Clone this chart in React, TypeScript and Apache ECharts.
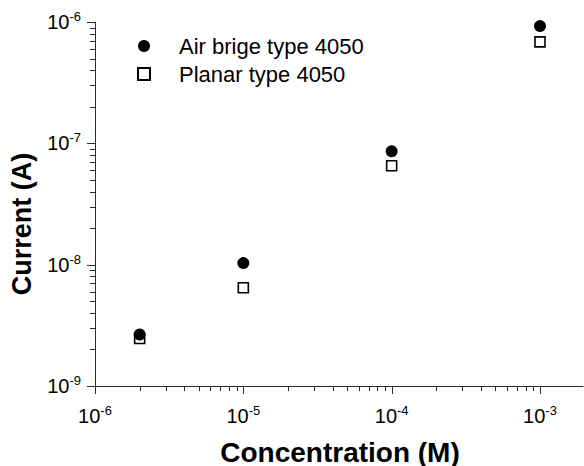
import React, { useEffect, useRef } from "react";
import * as echarts from "echarts";

// Concentration (M)
const concentrations = [2e-6, 1e-5, 1e-4, 1e-3];
// Current (A)
const airBridgeCurrent = [2.66e-9, 1.03e-8, 8.6e-8, 9.25e-7];
const planarCurrent = [2.46e-9, 6.46e-9, 6.53e-8, 6.86e-7];

const seriesNames = ["Air brige type 4050", "Planar type 4050"];

const xMajorTicks = [1e-6, 1e-5, 1e-4, 1e-3];
const yMajorTicks = [1e-9, 1e-8, 1e-7, 1e-6];
const minorMultipliers = [2, 3, 4, 5, 6, 7, 8, 9];

const X_MIN = -6;
const X_MAX = -2.71;
const Y_MIN = -9;
const Y_MAX = -6;

const FONT = "'Liberation Sans', Arial, Helvetica, sans-serif";
const AXIS_COLOR = "#2a2a2a";
const TICK_COLOR = "#2a2a2a";
const MAJOR_LEN = 8;
const MINOR_LEN = 5;

const log10 = (v: number) => Math.log10(v);
const isMajor = (v: number) => Math.abs(v - Math.round(v)) < 1e-6;

function buildTicks(majors: number[], lo: number, hi: number) {
  const out: number[] = [];
  majors.forEach((m) => {
    const lm = log10(m);
    if (lm >= lo - 1e-9 && lm <= hi + 1e-9) out.push(lm);
    minorMultipliers.forEach((k) => {
      const lv = log10(m * k);
      if (lv > lo && lv < hi) out.push(lv);
    });
  });
  return out;
}

const labelFormatter = (v: number) => {
  if (!isMajor(v)) return "";
  return `{b|10}{s|${Math.round(v)}}`;
};

const richLabel = {
  b: { fontSize: 20, fontFamily: FONT, color: "#000", lineHeight: 24 },
  s: {
    fontSize: 13,
    fontFamily: FONT,
    color: "#000",
    lineHeight: 13,
    verticalAlign: "top" as const,
  },
};

export default function App() {
  const ref = useRef<HTMLDivElement>(null);

  useEffect(() => {
    if (!ref.current) return;
    const chart = echarts.init(ref.current, undefined, { renderer: "svg" });

    const xTicks = buildTicks(xMajorTicks, X_MIN, X_MAX);
    const yTicks = buildTicks(yMajorTicks, Y_MIN, Y_MAX);

    chart.setOption({
      animation: false,
      backgroundColor: "#fff",
      grid: { left: 95, right: 1, top: 22, bottom: 80, containLabel: false },
      xAxis: {
        type: "value",
        min: X_MIN,
        max: X_MAX,
        interval: 1,
        splitLine: { show: false },
        axisTick: { show: false },
        axisLine: { show: true, lineStyle: { color: AXIS_COLOR, width: 1 } },
        axisLabel: {
          formatter: labelFormatter,
          rich: richLabel,
          margin: 18,
          showMaxLabel: false,
        },
      },
      yAxis: {
        type: "value",
        min: Y_MIN,
        max: Y_MAX,
        interval: 1,
        splitLine: { show: false },
        axisTick: { show: false },
        axisLine: { show: true, lineStyle: { color: AXIS_COLOR, width: 1 } },
        axisLabel: {
          formatter: labelFormatter,
          rich: richLabel,
          margin: 14,
        },
      },
      legend: {
        left: 132,
        top: 30,
        orient: "vertical",
        itemWidth: 12,
        itemHeight: 12,
        itemGap: 6,
        selectedMode: false,
        textStyle: {
          fontSize: 22,
          fontFamily: FONT,
          color: "#000",
          padding: [0, 0, 0, 24],
        },
        data: seriesNames,
      },
      graphic: [
        {
          type: "text",
          x: 22,
          y: 224,
          rotation: Math.PI / 2,
          style: {
            text: "Current (A)",
            fontSize: 27,
            fontWeight: "bold",
            fontFamily: FONT,
            fill: "#000",
            align: "center",
            verticalAlign: "middle",
          },
        },
        {
          type: "text",
          x: 340,
          y: 452,
          style: {
            text: "Concentration (M)",
            fontSize: 28,
            fontWeight: "bold",
            fontFamily: FONT,
            fill: "#000",
            align: "center",
            verticalAlign: "middle",
          },
        },
      ],
      series: [
        {
          name: seriesNames[0],
          type: "scatter",
          symbol: "circle",
          symbolSize: 12,
          z: 4,
          itemStyle: { color: "#000", opacity: 1 },
          data: concentrations.map((c, i) => [log10(c), log10(airBridgeCurrent[i])]),
        },
        {
          name: seriesNames[1],
          type: "scatter",
          symbol: "rect",
          symbolSize: 10,
          z: 3,
          itemStyle: { color: "#fff", borderColor: "#000", borderWidth: 1.6, opacity: 1 },
          data: concentrations.map((c, i) => [log10(c), log10(planarCurrent[i])]),
        },
        {
          type: "custom",
          clip: false,
          silent: true,
          data: [[X_MIN, Y_MIN]],
          renderItem: (_p: any, api: any) => {
            const children: any[] = [];
            xTicks.forEach((v) => {
              const pt = api.coord([v, Y_MIN]);
              const x = Math.round(pt[0]) + 0.5;
              const y = pt[1];
              const len = isMajor(v) ? MAJOR_LEN : MINOR_LEN;
              children.push({
                type: "line",
                shape: { x1: x, y1: y, x2: x, y2: y + len },
                style: { stroke: TICK_COLOR, lineWidth: 1 },
              });
            });
            yTicks.forEach((v) => {
              const pt = api.coord([X_MIN, v]);
              const x = pt[0];
              const y = Math.round(pt[1]) + 0.5;
              const len = isMajor(v) ? MAJOR_LEN : MINOR_LEN;
              children.push({
                type: "line",
                shape: { x1: x, y1: y, x2: x - len, y2: y },
                style: { stroke: TICK_COLOR, lineWidth: 1 },
              });
            });
            return { type: "group", children };
          },
        },
      ],
    });

    return () => chart.dispose();
  }, []);

  return (
    <div
      ref={ref}
      style={{ position: "fixed", left: 0, top: 0, width: 584, height: 466 }}
    />
  );
}
